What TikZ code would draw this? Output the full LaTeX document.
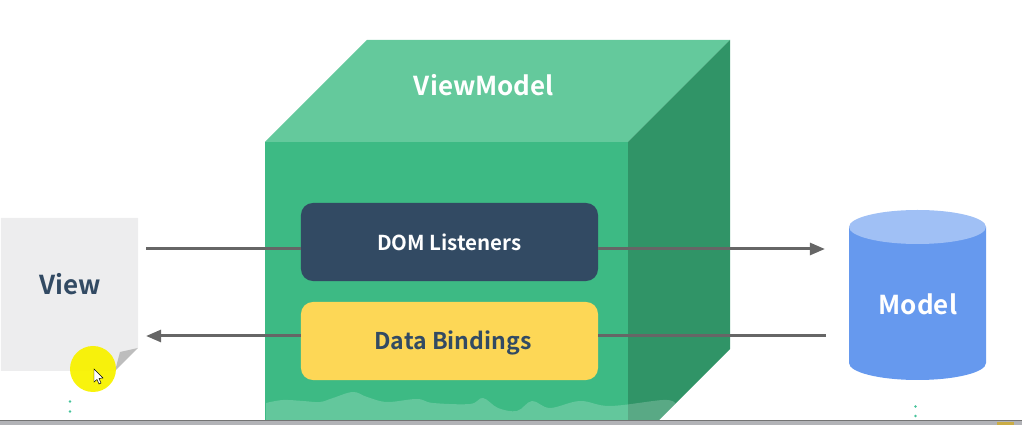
\documentclass[tikz,border=0pt]{standalone}
\usepackage{fontspec}
\setmainfont{Noto Sans CJK SC}[BoldFont={Noto Sans CJK SC Bold}]
\usepackage{tikz}
\usetikzlibrary{arrows.meta}
\definecolor{cubefront}{HTML}{3DBA84}
\definecolor{cubetop}{HTML}{64C99C}
\definecolor{cubeside}{HTML}{309467}
\definecolor{navy}{HTML}{324A63}
\definecolor{gold}{HTML}{FDD756}
\definecolor{paper}{HTML}{EDEDEE}
\definecolor{fold}{HTML}{BDBDBD}
\definecolor{wire}{HTML}{666666}
\definecolor{drum}{HTML}{6699EE}
\definecolor{drumtop}{HTML}{A0C0F5}
\definecolor{bar}{HTML}{B2B3B7}
\definecolor{speck}{HTML}{45C39A}
\definecolor{pointer}{HTML}{F8F200}
\tikzstyle{box}=[minimum width=7.425cm, minimum height=1.95cm, rounded corners=.3cm, inner sep=0pt]
\tikzstyle{wire}=[draw=wire, line width=.075cm]
\tikzstyle{tip}=[wire, -{Triangle[length=.38cm, width=.3cm]}]
\tikzstyle{speck}=[circle, fill=speck, inner sep=0pt, minimum size=.07cm]

\begin{document}
\begin{tikzpicture}[x=.025cm, y=-.025cm]
    \useasboundingbox (0,0) rectangle (1022,425);

    \fill[cubefront] (265,142) rectangle (628,421);
    \fill[cubetop] (265,142) -- (367,40) -- (730,40) -- (628,142) -- cycle;
    \fill[cubeside] (628,142) -- (730,40) -- (730,349) -- (658,421) -- (628,421) -- cycle;
    \begin{scope}
        \clip (265,142) -- (628,142) -- (730,40) -- (730,349) -- (658,421) -- (265,421) -- cycle;
        \fill[white, opacity=.2] (266,421) -- (266,403) -- plot[smooth, tension=.6] coordinates {(266,403) (283,400) (303,401) (320,402) (333,398) (353,392) (367,397) (387,402) (417,399) (433,403) (470,404) (483,398) (498,408) (517,411) (532,401) (550,408) (580,401) (610,406) (663,400) (675,403)} -- (690,421) -- cycle;
    \end{scope}

    \coordinate (viewout) at (146,249);
    \coordinate (modelin) at (825,249);
    \coordinate (modelout) at (826,336);
    \coordinate (viewin) at (146,336);

    \node[box, fill=navy, text=white, font=\fontsize{14.6}{17}\selectfont\bfseries] (dom) at (449.5,242) {DOM Listeners};
    \node[box, fill=gold] (data) at (449.5,341) {};
    \node[text=navy, font=\fontsize{16.4}{19}\selectfont\bfseries] (datatext) at (453,343) {Data Bindings};
    \node[text=white, font=\fontsize{18.5}{22}\selectfont\bfseries] (vm) at (484,85) {ViewModel};

    \draw[wire] (viewout) -- (viewout -| dom.west);
    \draw[tip] (viewout -| dom.east) -- (modelin);
    \draw[wire] (modelout) -- (modelout -| data.east);
    \draw[tip] (viewin -| data.west) -- (viewin);

    \fill[paper] (1,218) -- (138,218) -- (138,348) -- (115,371) -- (1,371) -- cycle;
    \fill[fold] (138,348) -- (120,352) -- (115,371) -- cycle;
    \node[text=navy, font=\fontsize{18.5}{22}\selectfont\bfseries] (view) at (70,284) {View};

    \fill[drum] (849,227) -- (849,363) arc[start angle=180, end angle=360, x radius=68.5, y radius=-17] -- (986,227) -- cycle;
    \fill[drumtop] (917.5,227) ellipse[x radius=68.5, y radius=17];
    \node[text=white, font=\fontsize{18.5}{22}\selectfont\bfseries] (model) at (918,304) {Model};

    \fill[pointer, opacity=.95] (93,369) circle[radius=23];
    \draw[black, fill=white, line width=.012cm] (94,369) -- (94,382) -- (97,379.5) -- (99,384) -- (101,383) -- (99,378.5) -- (103,378) -- cycle;

    \node[speck] (d1) at (70,401.5) {};
    \node[speck] (d2) at (70,411.5) {};
    \node[speck] (d3) at (915.5,406.5) {};
    \node[speck] (d4) at (915.5,416) {};

    \fill[bar] (0,421) rectangle (1022,425);
    \fill[black!55] (0,420.3) rectangle (1022,421.3);
    \fill[gold!80!black] (997,422) rectangle (1014,425);
\end{tikzpicture}
\end{document}
